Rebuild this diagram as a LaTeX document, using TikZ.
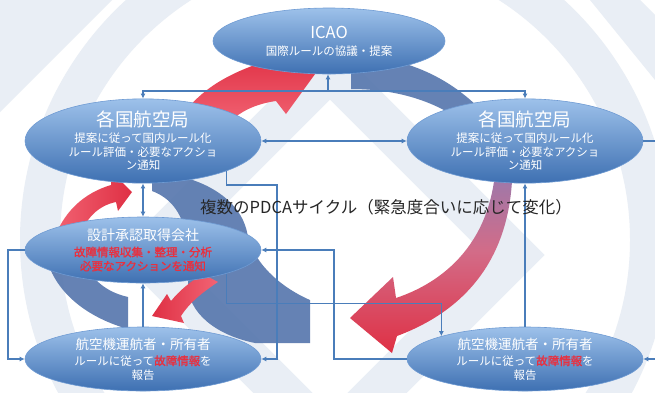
\documentclass[tikz,border=0pt]{standalone}
\usepackage{fontspec}
\setmainfont{Noto Sans CJK JP}
\newfontfamily\jpbold[FakeBold=1.6]{Noto Sans CJK JP}
\usetikzlibrary{shapes.geometric,arrows.meta}
\definecolor{conncol}{HTML}{4A7DBA}
\definecolor{elltop}{HTML}{9DC1EA}
\definecolor{ellbot}{HTML}{3E70B2}
\definecolor{ellline}{HTML}{6F9BD3}
\definecolor{redtxt}{HTML}{E8303F}
\definecolor{redhi}{HTML}{F26474}
\definecolor{redlo}{HTML}{DF3044}
\definecolor{bandblue}{HTML}{5878AE}
\definecolor{bandpurple}{HTML}{8A7DB6}
\definecolor{wm}{HTML}{E9EEF5}
\definecolor{pdcatxt}{HTML}{262626}
\newcommand\redbold[1]{{\jpbold\color{redtxt}#1}}
\begin{document}
\begin{tikzpicture}[x=1pt,y=-1pt,
  >={Latex[length=5pt,width=5pt]},
  ell/.style={ellipse, inner sep=0pt, minimum width=236pt, minimum height=67pt,
    draw=ellline, line width=0.6pt, top color=elltop, bottom color=ellbot,
    text=white, align=center, font=\fontsize{11.5}{14}\selectfont},
  conn/.style={draw=conncol, line width=1.3pt},
  blueband/.style={fill=bandblue, fill opacity=0.92},
]
\useasboundingbox (0,0) rectangle (655,392);
\clip (0,0) rectangle (655,392);
\fill[white] (0,0) rectangle (655,392);
% faint watermark
\fill[wm] (0,0) -- (112,0) -- (0,112) -- cycle;
\draw[wm, line width=40pt] (345,240) circle[radius=305];
\draw[wm, line width=42pt] (330,70) -- (515,255) -- (330,440) -- (145,255) -- cycle;
\fill[wm] (590,0) -- (640,0) -- (655,15) -- (655,80) -- cycle;

% decorative cycle bands
\fill[blueband] (351,56) .. controls (410,56) and (458,82) .. (490,120) -- (468,126) .. controls (440,103) and (400,89) .. (351,89) -- cycle;
\shade[top color=bandpurple, bottom color=redlo, middle color=redhi!70!bandpurple]
  (512,150) .. controls (517,240) and (480,305) .. (397,336) -- (392,353) -- (350,318) -- (393,277) -- (396,298) .. controls (450,280) and (497,235) .. (496,150) -- cycle;
\fill[blueband] (152,172) .. controls (205,176) and (240,200) .. (247,232) .. controls (252,262) and (280,287) .. (310,300) -- (310,343) -- (255,343) .. controls (215,335) and (188,312) .. (188,285) .. controls (190,250) and (190,205) .. (152,191) -- cycle;
\fill[blueband] (45,250) .. controls (50,287) and (82,316) .. (128,329) -- (128,297) .. controls (102,291) and (86,275) .. (82,250) -- cycle;
\shade[bottom color=redhi, top color=redlo]
  (176,125) .. controls (192,98) and (215,80) .. (252,66) -- (246,52) -- (318,70) -- (286,114) -- (276,101) .. controls (255,104) and (238,112) .. (226,126) -- cycle;
\shade[left color=redhi, right color=redlo]
  (52,245) .. controls (62,212) and (84,193) .. (111,185) -- (112,172) -- (132,192) -- (118,211) -- (116,202) .. controls (96,206) and (82,222) .. (78,245) -- cycle;
\shade[left color=redlo, right color=redhi]
  (171,301) .. controls (180,290) and (190,282) .. (203,274) -- (218,282) .. controls (203,292) and (190,302) .. (181,316) -- (184,323) -- (152,316) -- (167,294) -- cycle;

% nodes
\node[ell, minimum width=232pt, minimum height=66pt] (icao) at (329,41)
  {{\fontsize{16.5}{16.5}\selectfont ICAO}\\[3pt]国際ルールの協議・提案};
\node[ell] (lk) at (143,141)
  {{\fontsize{18.5}{18.5}\selectfont 各国航空局}\\[2pt]提案に従って国内ルール化\\ルール評価・必要なアクショ\\[-1pt]ン通知};
\node[ell] (rk) at (525,141)
  {{\fontsize{18.5}{18.5}\selectfont 各国航空局}\\[2pt]提案に従って国内ルール化\\ルール評価・必要なアクショ\\[-1pt]ン通知};
\node[ell, minimum height=66pt] (sk) at (143,250)
  {{\fontsize{14}{14}\selectfont 設計承認取得会社}\\[2pt]\redbold{故障情報収集・整理・分析}\\\redbold{必要なアクションを通知}};
\node[ell, minimum height=64pt] (la) at (143,359)
  {{\fontsize{13.5}{13.5}\selectfont 航空機運航者・所有者}\\[2pt]ルールに従って\redbold{故障情報}を\\報告};
\node[ell, minimum height=64pt] (ra) at (525,359)
  {{\fontsize{13.5}{13.5}\selectfont 航空機運航者・所有者}\\[2pt]ルールに従って\redbold{故障情報}を\\報告};

% connectors
\coordinate (j) at (328,91);
\draw[conn,->] (j) -- (j |- icao.south);
\draw[conn,<->] (lk.north) |- (j) -| (rk.north);
\draw[conn,<->] (lk.east) -- (rk.west);
\coordinate (rkout) at (655,141);
\draw[conn] (rk.east) -- (rkout);
\coordinate (raout) at (655,359);
\draw[conn,->] (raout) -- (ra.east);
\draw[conn,<->] (lk.south) -- (sk.north);
\draw[conn,->] (la.north) -- (sk.south);
\coordinate (lw) at (8,250);
\draw[conn,->] (sk.west) -- (lw) |- (la.west);
\coordinate (b1) at (277,185);
\draw[conn,->] (lk.south east) |- (b1) |- (la.east);
\path (ra.north west) ++(0,-33) coordinate (b2);
\draw[conn,->] (sk.south east) |- (b2) -- (ra.north west);
\coordinate (b3) at (334,250);
\draw[conn,->] (ra.west) -| (b3) -- (sk.east);
\draw[conn,->] (ra.north) -- (rk.south);

\node[font=\fontsize{16.5}{18}\selectfont, text=pdcatxt] (pdca) at (386,207)
  {複数のPDCAサイクル（緊急度合いに応じて変化）};
\end{tikzpicture}
\end{document}
